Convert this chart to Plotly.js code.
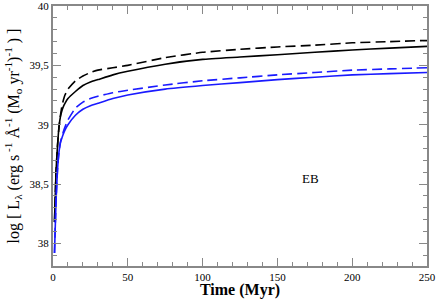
<!DOCTYPE html>
<html><head><meta charset="utf-8">
<script src="https://cdn.plot.ly/plotly-3.0.1.min.js"></script>
<style>html,body{margin:0;padding:0;background:#fff}#c{width:436px;height:299px}</style>
</head><body><div id="c"></div>
<script>
var time = [1, 2, 3, 4, 5, 6, 7, 8, 10, 15, 20, 25, 30, 40, 50, 75, 100, 125, 150, 175, 200, 225, 250];
var blackSolid = [38.18, 38.6, 38.82, 38.98, 39.07, 39.12, 39.155, 39.18, 39.22, 39.28, 39.33, 39.36, 39.38, 39.42, 39.45, 39.51, 39.55, 39.57, 39.59, 39.61, 39.63, 39.645, 39.66];
var blackDashed = [38.18, 38.6, 38.82, 38.98, 39.08, 39.16, 39.21, 39.25, 39.30, 39.37, 39.41, 39.44, 39.46, 39.48, 39.50, 39.565, 39.61, 39.635, 39.655, 39.67, 39.69, 39.70, 39.71];
var blueSolid = [37.92, 38.35, 38.62, 38.77, 38.85, 38.89, 38.925, 38.955, 39.0, 39.08, 39.13, 39.16, 39.18, 39.22, 39.25, 39.30, 39.33, 39.355, 39.38, 39.40, 39.42, 39.43, 39.44];
var blueDashed = [37.92, 38.35, 38.62, 38.77, 38.855, 38.90, 38.945, 38.98, 39.04, 39.14, 39.19, 39.22, 39.24, 39.27, 39.29, 39.335, 39.37, 39.395, 39.42, 39.44, 39.46, 39.47, 39.48];
var yTickVals = [38, 38.5, 39, 39.5, 40];
var yTickText = ["38", "38,5", "39", "39,5", "40"];
var xTickVals = [0, 50, 100, 150, 200, 250];
var xTickText = ["0", "50", "100", "150", "200", "250"];
var label = "EB";

function tr(y, color, dash) {
  return {x: time, y: y, type: 'scatter', mode: 'lines', line: {color: color, width: 1.6, dash: dash, shape: 'spline', smoothing: 0.4}, hoverinfo: 'skip'};
}
var data = [
  tr(blackSolid, '#000000', 'solid'),
  tr(blackDashed, '#000000', '10px,5px'),
  tr(blueSolid, '#1a1aff', 'solid'),
  tr(blueDashed, '#1a1aff', '10px,5px')
];
var axisCommon = {
  showline: true, linecolor: '#888888', linewidth: 2, mirror: 'ticks',
  ticks: 'inside', ticklen: 8, tickwidth: 1, tickcolor: '#888888',
  showgrid: false, zeroline: false, ticklabeloverflow: 'allow',
  tickfont: {family: 'Liberation Serif', size: 11, color: '#000'}
};
var layout = {
  width: 436, height: 299,
  margin: {l: 53, r: 9, t: 6, b: 33},
  paper_bgcolor: '#fff', plot_bgcolor: '#fff',
  showlegend: false,
  xaxis: Object.assign({}, axisCommon, {
    range: [0, 250], tickmode: 'array', tickvals: xTickVals, ticktext: xTickText,
    minor: {dtick: 10, ticks: 'inside', ticklen: 4, tickcolor: '#888888', tickwidth: 1, showgrid: false},
    title: {text: '<b>Time (Myr)</b>', font: {family: 'Liberation Serif', size: 16, color: '#000'}, standoff: 2}
  }),
  yaxis: Object.assign({}, axisCommon, {
    range: [37.81, 40], tickmode: 'array', tickvals: yTickVals, ticktext: yTickText,
    minor: {tick0: 38, dtick: 0.1, ticks: 'inside', ticklen: 4, tickcolor: '#888888', tickwidth: 1, showgrid: false},
    title: {text: 'log [ L<sub>λ</sub> (erg s<sup> -1</sup> Å<sup>-1</sup> (M<sub>o</sub> yr<sup>-1</sup>)<sup>-1</sup> ) ]', font: {family: 'Liberation Serif', size: 16, color: '#000'}, standoff: 6}
  }),
  annotations: [{x: 172, y: 38.55, xref: 'x', yref: 'y', text: label, showarrow: false, font: {family: 'Liberation Serif', size: 13, color: '#000'}}]
};
Plotly.newPlot('c', data, layout, {staticPlot: true, displayModeBar: false});
</script></body></html>
